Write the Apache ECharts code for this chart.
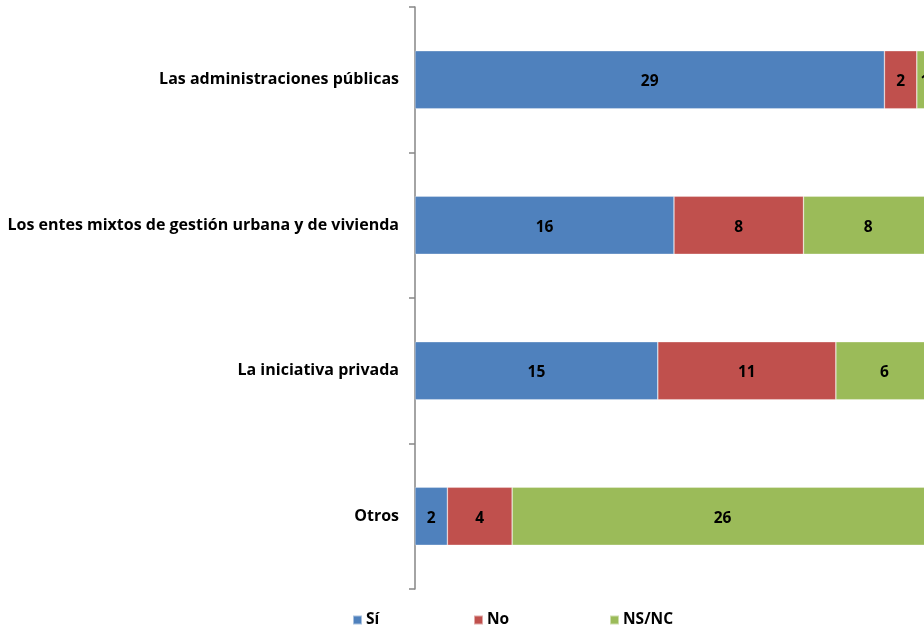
<!DOCTYPE html>
<html>
<head>
<meta charset="utf-8">
<script src="https://cdn.jsdelivr.net/npm/echarts@6/dist/echarts.min.js"></script>
<style>
  html, body { margin: 0; padding: 0; background: #fff; }
  #chart { width: 924px; height: 630px; }
</style>
</head>
<body>
<div id="chart"></div>
<script>
const categories = [
  'Las administraciones públicas',
  'Los entes mixtos de gestión urbana y de vivienda',
  'La iniciativa privada',
  'Otros'
];
const seriesNames = ['Sí', 'No', 'NS/NC'];
const valuesSi = [29, 16, 15, 2];
const valuesNo = [2, 8, 11, 4];
const valuesNsnc = [1, 8, 6, 26];
const colors = ['#4F81BD', '#C0504D', '#9BBB59'];

const FONT = '"Open Sans", sans-serif';
const FS = 15.5;
const chart = echarts.init(document.getElementById('chart'));

function makeSeries(name, data, color) {
  return {
    name: name,
    type: 'bar',
    stack: 'total',
    data: data,
    barWidth: 58,
    itemStyle: { color: color, borderColor: 'rgba(255,255,255,0.5)', borderWidth: 0.6 },
    label: {
      show: true,
      position: 'inside',
      offset: [0, 2],
      color: '#000',
      fontFamily: FONT,
      fontWeight: 'bold',
      fontSize: FS
    },
    emphasis: { disabled: true }
  };
}

const legendBase = {
  bottom: -3,
  itemWidth: 9,
  itemHeight: 9,
  icon: 'rect',
  textStyle: { fontFamily: FONT, fontWeight: 'bold', fontSize: FS, color: '#000', padding: [0, 0, 0, -1] }
};

chart.setOption({
  animation: false,
  color: colors,
  grid: { left: 415, top: 7, height: 582, width: 518, outerBoundsMode: 'none', containLabel: false },
  legend: [
    Object.assign({}, legendBase, { left: 347, data: [seriesNames[0]] }),
    Object.assign({}, legendBase, { left: 468, data: [seriesNames[1]] }),
    Object.assign({}, legendBase, { left: 604, data: [seriesNames[2]] })
  ],
  xAxis: {
    type: 'value',
    min: 0,
    max: 32,
    show: false
  },
  yAxis: {
    type: 'category',
    data: categories,
    inverse: true,
    axisLine: { show: true, lineStyle: { color: '#868686', width: 1.5 } },
    axisTick: { show: true, length: 6, lineStyle: { color: '#868686', width: 1.5 } },
    axisLabel: {
      color: '#000',
      fontFamily: FONT,
      fontWeight: 'bold',
      fontSize: 16,
      margin: 16,
      padding: [4, 0, 0, 0]
    },
    splitLine: { show: false }
  },
  series: [
    makeSeries(seriesNames[0], valuesSi, colors[0]),
    makeSeries(seriesNames[1], valuesNo, colors[1]),
    makeSeries(seriesNames[2], valuesNsnc, colors[2])
  ]
});
</script>
</body>
</html>
